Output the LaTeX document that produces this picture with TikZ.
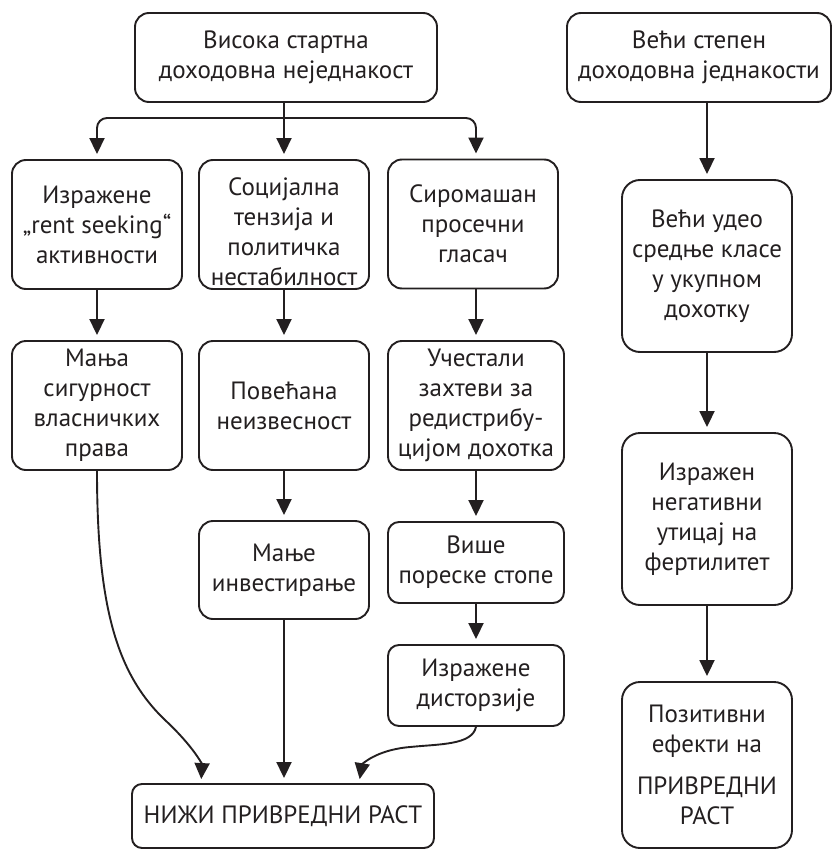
\documentclass[tikz,border=0pt]{standalone}
\usepackage{fontspec}
\setmainfont{PT Sans}
\usetikzlibrary{arrows.meta,calc}
\definecolor{ink}{RGB}{35,31,32}
\begin{document}
\begin{tikzpicture}[x=1pt,y=-1pt,
  box/.style={draw=ink, line width=1.9pt, rounded corners=14pt, align=center,
    inner sep=0pt, text=ink, font=\fontsize{25}{30}\selectfont},
  conn/.style={draw=ink, line width=1.9pt, -{Triangle[length=16pt,width=15pt]}, shorten >=5pt}]
\useasboundingbox (0,0) rectangle (834,851);
% left tree
\node[box, minimum width=302pt, minimum height=89pt] (top) at (286,57.5) {Висока стартна\\доходовна неједнакост};
\node[box, minimum width=170pt, minimum height=129pt] (A1) at (97,224.5) {Изражене\\„rent seeking“\\активности};
\node[box, minimum width=170pt, minimum height=129pt] (B1) at (284,224.5) {\rule{0pt}{32pt}Социјална\\тензија и\\политичка\\нестабилност};
\node[box, minimum width=170pt, minimum height=129pt] (C1) at (473,224) {Сиромашан\\просечни\\гласач};
\node[box, minimum width=170pt, minimum height=129pt] (A2) at (97,405.5) {Мања\\сигурност\\власничких\\права};
\node[box, minimum width=170pt, minimum height=129pt] (B2) at (284,405.5) {Повећана\\неизвесност};
\node[box, minimum width=176pt, minimum height=129pt] (C2) at (476,405.5) {Учестали\\захтеви за\\редистрибу-\\цијом дохотка};
\node[box, minimum width=170pt, minimum height=98pt] (B3) at (284,570) {Мање\\инвестирање};
\node[box, minimum width=176pt, minimum height=81pt, rounded corners=11pt] (C3) at (476,562.5) {Више\\пореске стопе};
\node[box, minimum width=176pt, minimum height=81pt, rounded corners=11pt] (C4) at (476,685.5) {Изражене\\дисторзије};
\node[box, minimum width=302pt, minimum height=64pt, rounded corners=10pt] (bot) at (283,816) {НИЖИ ПРИВРЕДНИ РАСТ};
% right column
\node[box, minimum width=264pt, minimum height=89pt] (R1) at (699,57.5) {Већи степен\\доходовна једнакости};
\node[box, minimum width=170pt, minimum height=172pt, rounded corners=18pt] (R2) at (707,266) {Већи удео\\средње класе\\у укупном\\дохотку};
\node[box, minimum width=170pt, minimum height=172pt, rounded corners=18pt] (R3) at (707,519) {Изражен\\негативни\\утицај на\\фертилитет};
\node[box, minimum width=170pt, minimum height=166pt, rounded corners=18pt] (R4) at (707,765) {Позитивни\\ефекти на\\[12pt]ПРИВРЕДНИ\\РАСТ};
% connectors
\coordinate (br) at (284,118);
\draw[conn] (top.south -| B1.north) -- (B1.north);
\draw[conn, rounded corners=10pt] (br) -| (A1.north);
\draw[conn, rounded corners=10pt] (br) -| (C1.north -| C2.north);
\draw[conn] (A1) -- (A2);
\draw[conn] (B1) -- (B2);
\draw[conn] (C1.south -| C2.north) -- (C2.north);
\draw[conn] (B2) -- (B3);
\draw[conn] (C2) -- (C3);
\draw[conn] (C3) -- (C4);
\draw[conn] (R1.south -| R2.north) -- (R2.north);
\draw[conn] (R2) -- (R3);
\draw[conn] (R3) -- (R4);
\draw[conn] (B3) -- (B3 |- bot.north);
\coordinate (bl) at ($(bot.north west)+(70,0)$);
\coordinate (bx) at ($(bot.north west)+(228,0)$);
\draw[conn, shorten >=4pt] (A2.south) .. controls (97,610) and (118,675) .. (165,720) .. controls (195,748) and (202,765) .. (bl);
\draw[conn, shorten >=4pt] (C4.south) .. controls (472,745) and (440,744) .. (410,747) .. controls (375,750) and (362,765) .. (bx);
\end{tikzpicture}
\end{document}
